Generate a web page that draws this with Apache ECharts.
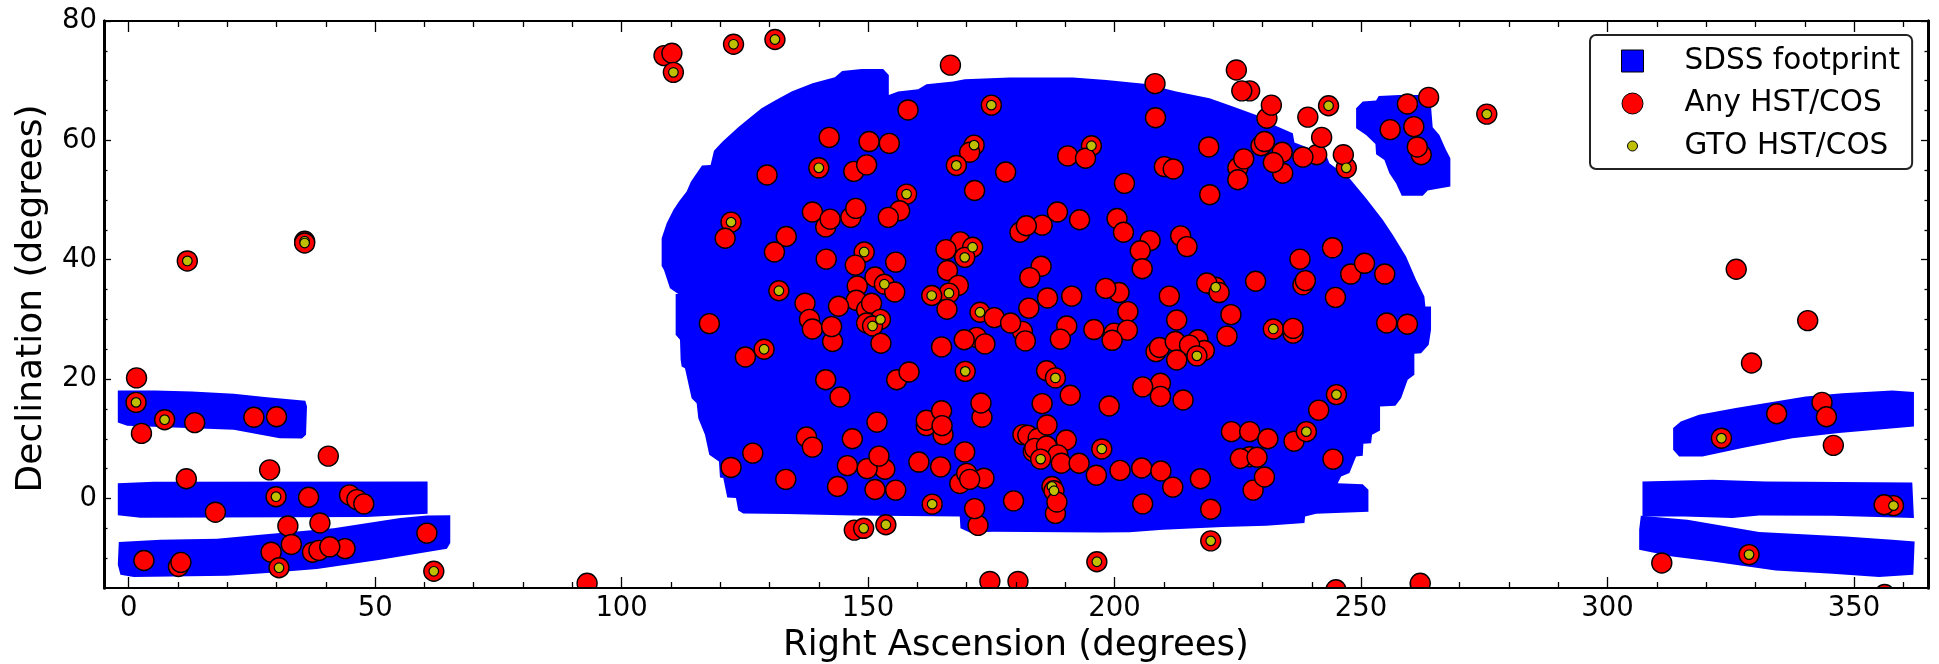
<!DOCTYPE html>
<html>
<head>
<meta charset="utf-8">
<style>html,body{margin:0;padding:0;background:#fff}#chart{width:1939px;height:664px}</style>
<script src="https://cdn.jsdelivr.net/npm/echarts@6/dist/echarts.min.js"></script>
</head>
<body>
<div id="chart"></div>
<script>
const xMajorTicks=[0,50,100,150,200,250,300,350];
const xMinorTicks=[10,20,30,40,60,70,80,90,110,120,130,140,160,170,180,190,210,220,230,240,260,270,280,290,310,320,330,340,360];
const yMajorTicks=[0,20,40,60,80];
const yMinorTicks=[-10,-5,5,10,15,25,30,35,45,50,55,65,70,75];

const footprintMain=[[111.84,26.58],[110.96,27.42],[110.96,34.28],[111.50,34.28],[109.81,35.23],[108.59,38.30],[108.12,38.97],[108.12,43.61],[109.14,46.12],[110.49,48.35],[111.70,49.86],[113.19,51.43],[114.07,53.10],[116.30,55.78],[118.05,55.89],[118.73,58.24],[120.49,59.80],[123.66,62.20],[125.69,63.60],[128.39,65.38],[130.76,66.50],[134.47,68.18],[138.73,69.57],[143.26,70.58],[144.74,71.64],[148.66,71.97],[153.05,71.97],[154.20,70.97],[154.20,67.62],[156.09,68.18],[160.15,68.57],[161.84,69.40],[167.24,69.85],[169.61,70.24],[178.73,70.52],[191.57,70.52],[198.32,70.13],[206.42,69.46],[212.50,68.18],[219.26,67.06],[223.99,65.66],[228.72,64.27],[232.77,62.42],[236.15,61.20],[236.49,59.63],[242.90,57.57],[243.58,56.17],[247.64,53.66],[251.01,50.31],[254.39,46.68],[256.42,44.17],[259.12,40.54],[261.15,36.63],[262.84,33.84],[263.04,32.16],[264.19,32.16],[264.19,28.25],[263.72,25.74],[262.16,24.35],[260.81,24.23],[260.81,20.72],[259.46,19.88],[258.11,16.81],[256.96,15.52],[253.85,15.41],[253.85,11.39],[252.23,10.67],[252.03,9.27],[250.47,9.16],[250.34,7.15],[248.99,7.04],[247.64,4.25],[245.95,3.69],[245.27,2.57],[250.34,2.40],[251.49,1.45],[251.49,-2.23],[240.88,-2.57],[238.65,-3.01],[238.51,-4.13],[230.74,-4.58],[221.96,-4.80],[209.80,-5.25],[203.04,-5.64],[196.96,-5.69],[175.35,-5.58],[170.62,-5.69],[168.73,-4.97],[168.59,-3.01],[146.97,-2.84],[133.46,-2.62],[124.68,-2.51],[123.66,-2.01],[123.19,0.06],[121.43,0.17],[120.62,3.41],[119.95,3.52],[119.74,6.20],[117.78,7.32],[116.91,10.67],[115.55,13.46],[115.22,15.97],[114.20,16.81],[112.85,21.83],[112.18,22.11],[111.97,23.23]];
const footprintIsland=[[248.99,65.38],[250.34,66.50],[253.04,66.67],[253.58,67.45],[257.77,67.62],[263.85,67.62],[264.19,65.66],[264.53,62.20],[265.88,60.92],[267.23,58.40],[268.11,57.0],[268.11,52.26],[263.51,51.59],[262.50,50.70],[258.25,50.70],[257.09,52.82],[255.74,54.50],[254.73,56.73],[253.04,57.68],[252.91,59.41],[251.01,60.92],[248.99,62.03]];
const footprintLeftTop=[[-2.2,18.09],[5.44,18.09],[12.87,17.93],[21.32,17.53],[28.07,16.98],[35.84,16.36],[36.18,15.41],[35.98,10.67],[35.17,10.05],[30.64,10.11],[21.32,11.50],[9.16,11.90],[-0.30,12.17],[-2.2,12.73]];
const footprintLeftMid=[[-2.20,2.57],[5.10,2.79],[60.64,2.85],[60.64,-2.57],[48.34,-3.12],[2.40,-3.24],[-2.20,-2.79]];
const footprintLeftLow=[[-2.0,-7.31],[6.45,-6.92],[17.94,-6.75],[26.72,-6.08],[41.59,-4.97],[55.10,-3.29],[60.5,-2.85],[65.24,-2.79],[65.24,-7.48],[64.56,-8.43],[51.05,-10.27],[38.21,-11.83],[28.07,-12.50],[19.97,-12.95],[1.05,-13.17],[-1.66,-12.78],[-2.2,-11.11]];
const footprintRightTop=[[313.30,11.79],[314.85,12.90],[318.57,14.02],[326.0,15.14],[340.19,17.09],[347.62,17.65],[357.76,18.10],[362.15,17.82],[362.15,12.07],[346.95,10.95],[337.49,10.11],[327.35,8.44],[319.25,7.04],[314.52,7.04],[313.30,8.16]];
const footprintRightMid=[[307.08,2.86],[321.27,3.13],[332.08,2.86],[361.81,2.69],[362.15,-3.29],[345.6,-2.90],[330.73,-2.84],[325.33,-3.29],[315.53,-3.01],[307.08,-3.0],[307.08,-2.17]];
const footprintRightLow=[[306.75,-2.9],[316.2,-3.57],[330.73,-5.63],[348.3,-6.36],[357.76,-6.92],[362.29,-7.19],[362.02,-12.78],[355.06,-13.17],[345.6,-12.61],[334.11,-12.05],[321.27,-10.55],[313.16,-9.71],[306.41,-8.59],[306.41,-5.24]];

const anyHstCos=[
[108.6,74.2],[110.2,74.6],[110.5,71.4],[122.7,76.1],[131.1,76.9],[166.7,72.6],[158.1,65.1],[175.0,65.9],[142.1,60.5],[150.2,59.8],[154.3,59.5],[171.5,59.2],[170.6,58.0],[167.9,55.8],[195.3,59.1],[190.5,57.4],[194.1,57.0],[140.0,55.4],[147.1,54.8],[149.7,55.9],[129.5,54.2],[177.9,54.7],[171.6,51.6],[157.8,51.0],[156.4,48.2],[154.1,47.1],[138.7,48.0],[146.5,47.1],[147.5,48.6],[141.4,45.5],[142.3,46.8],[122.2,46.3],[121.0,43.6],[133.4,43.9],[131.0,41.3],[141.5,40.1],[149.2,41.3],[147.4,39.1],[155.6,39.6],[168.7,43.0],[165.8,41.7],[171.2,42.1],[169.6,40.4],[166.1,38.2],[168.3,35.7],[166.4,34.4],[162.9,34.0],[166.0,31.7],[188.4,48.0],[192.9,46.7],[185.3,45.8],[180.8,44.6],[182.1,45.7],[185.1,38.9],[182.8,37.0],[151.4,37.1],[153.3,35.9],[155.4,34.6],[147.8,35.6],[147.6,33.2],[149.7,31.6],[150.7,32.7],[152.5,30.0],[149.7,29.4],[150.9,28.9],[144.0,32.2],[137.2,32.7],[138.1,30.0],[138.7,28.4],[142.8,26.3],[142.6,28.8],[152.6,26.0],[131.9,34.8],[117.8,29.3],[172.7,31.2],[175.6,30.3],[181.3,28.0],[178.9,29.4],[181.9,26.4],[172.0,27.0],[169.5,26.6],[173.7,25.9],[164.9,25.4],[182.6,31.9],[186.4,33.6],[191.3,33.9],[190.3,28.9],[189.0,26.7],[195.8,28.3],[128.9,25.0],[125.1,23.7],
[224.7,71.8],[227.4,68.3],[225.8,68.3],[230.9,63.7],[231.8,65.9],[239.2,63.9],[243.4,65.8],[208.2,69.5],[208.3,63.8],[219.1,58.9],[241.0,57.6],[242.0,60.5],[238.2,57.2],[229.7,59.1],[230.4,59.8],[234.0,58.0],[234.1,54.5],[232.2,56.3],[225.0,55.4],[226.2,56.9],[225.0,53.4],[247.0,55.4],[246.4,57.6],[210.1,55.6],[211.9,55.2],[202.0,52.8],[219.3,50.9],[200.5,46.9],[201.8,44.6],[207.2,43.2],[205.2,41.5],[205.6,38.5],[213.4,44.0],[214.7,42.2],[237.6,40.1],[244.2,42.0],[247.9,37.6],[250.7,39.4],[254.8,37.6],[238.2,35.8],[238.7,36.5],[244.8,33.7],[228.6,36.4],[200.9,34.5],[198.2,35.2],[220.5,35.4],[218.7,36.1],[221.2,34.5],[211.1,33.9],[202.7,31.3],[212.6,29.9],[223.6,30.8],[222.8,27.2],[255.2,29.4],[259.4,29.2],[232.2,28.4],[236.2,27.7],[236.2,28.5],[199.9,27.7],[202.6,28.2],[199.5,26.5],[208.4,24.6],[209.1,25.3],[216.9,26.6],[218.2,24.8],[212.3,26.3],[215.2,25.7],[216.7,23.9],[212.6,23.2],
[259.4,66.1],[263.7,67.2],[255.9,61.8],[260.7,62.3],[262.2,57.6],[261.4,58.9],[275.5,64.4],
[141.4,19.9],[144.3,17.0],[155.8,19.9],[158.3,21.2],[169.7,21.3],[186.2,21.4],[188.0,20.2],[191.0,17.3],[185.3,15.9],[198.9,15.5],[173.1,13.6],[172.9,16.0],[151.8,12.8],[161.8,12.2],[161.8,13.1],[164.9,14.7],[165.2,10.7],[165.0,12.2],[137.5,10.3],[138.7,8.6],[146.8,10.0],[181.4,10.7],[182.4,10.6],[184.5,10.1],[183.5,7.9],[183.8,8.4],[186.2,8.8],[186.3,12.3],[190.2,9.8],[188.5,7.3],[185.0,6.6],[189.2,5.9],[197.4,8.3],[192.8,5.9],[196.3,3.9],[201.1,4.7],[169.6,7.8],[160.3,6.1],[164.7,5.3],[153.4,4.9],[149.8,5.0],[152.2,7.1],[145.8,5.5],[126.6,7.6],[122.2,5.2],[133.3,3.2],[143.8,2.0],[151.4,1.5],[155.6,1.4],[168.6,2.5],[170.0,4.2],[173.5,3.4],[170.6,3.2],[187.3,2.0],[187.7,1.3],[188.0,-2.5],[188.3,-0.6],[179.5,-0.4],[172.3,-4.5],[171.6,-1.7],[163.0,-0.95],[147.2,-5.3],[149.1,-5.0],[153.6,-4.4],[196.4,-10.6],[174.7,-13.9],[180.4,-13.9],[93.0,-14.2],
[209.3,19.3],[205.7,18.7],[209.3,17.1],[213.9,16.5],[205.5,5.1],[209.4,4.6],[211.8,1.9],[217.4,3.3],[223.7,11.2],[227.4,11.2],[231.1,10.0],[227.4,7.0],[225.5,6.7],[228.9,6.9],[228.1,1.4],[230.4,3.6],[236.4,9.6],[238.9,11.2],[241.4,14.8],[245.0,17.4],[244.3,6.6],[205.7,-0.9],[219.5,-1.8],[219.5,-7.1],[244.9,-15.3],[262.0,-14.2],
[1.6,20.2],[1.5,16.1],[7.3,13.2],[2.6,10.9],[13.4,12.7],[25.4,13.6],[30.0,13.7],[40.5,7.1],[28.6,4.8],[11.7,3.3],[29.9,0.3],[36.5,0.2],[44.8,0.6],[46.3,-0.2],[47.7,-0.9],[17.6,-2.3],[32.3,-4.6],[38.8,-4.1],[33.0,-7.7],[28.9,-9.0],[37.3,-9.0],[38.6,-8.7],[43.9,-8.4],[40.8,-8.1],[60.5,-5.8],[3.1,-10.4],[10.1,-11.4],[10.6,-10.7],[30.5,-11.6],[61.9,-12.2],[11.9,39.8],[35.7,43.1],[35.7,42.8],
[326.1,38.4],[340.6,29.8],[329.2,22.7],[343.5,16.1],[344.4,13.7],[334.3,14.2],[345.8,8.9],[323.1,10.1],[358.0,-1.2],[356.1,-1.05],[328.7,-9.4],[311.0,-10.8],[356.2,-16.1]
];
const gtoHstCos=[
[110.5,71.4],[122.7,76.1],[131.1,76.9],[175.0,65.9],[171.5,59.2],[167.9,55.8],[195.3,59.1],[140.0,55.4],[157.8,51.0],[122.2,46.3],[149.2,41.3],[171.2,42.1],[169.6,40.4],[166.4,34.4],[162.9,34.0],[153.3,35.9],[152.5,30.0],[150.9,28.9],[131.9,34.8],[172.7,31.2],[128.9,25.0],
[243.4,65.8],[247.0,55.4],[220.5,35.4],[232.2,28.4],[216.7,23.9],[275.5,64.4],
[169.7,21.3],[188.0,20.2],[185.0,6.6],[197.4,8.3],[187.3,2.0],[187.7,1.3],[163.0,-0.95],[149.1,-5.0],[153.6,-4.4],[196.4,-10.6],
[238.9,11.2],[245.0,17.4],[219.5,-7.1],
[1.5,16.1],[7.3,13.2],[29.9,0.3],[30.5,-11.6],[61.9,-12.2],[11.9,39.8],[35.7,43.1],[35.7,42.8],
[323.1,10.1],[358.0,-1.2],[328.7,-9.4]
];
const footprintPolygons=[footprintMain,footprintIsland,footprintLeftTop,footprintLeftMid,footprintLeftLow,footprintRightTop,footprintRightMid,footprintRightLow];

const FONT='"DejaVu Sans"';
const X_RANGE={min:-5,max:365}, Y_RANGE={min:-15,max:80};
const box='M0 0L0 0M83 22L83 22';
const squareIcon='path://'+box+'M25 0H47V22H25Z';
const bigIcon='path://'+box+'M25.5 11a10.5 10.5 0 1 0 21 0a10.5 10.5 0 1 0 -21 0Z';
const smallIcon='path://'+box+'M31 11a5 5 0 1 0 10 0a5 5 0 1 0 -10 0Z';

function xAxis(position,ticks,len,extra){
  return Object.assign({type:'value',position,z:5,...X_RANGE,splitLine:{show:false},
    axisLine:{show:true,onZero:false,lineStyle:{color:'#000',width:2}},
    axisTick:{show:true,inside:true,length:len,customValues:ticks,lineStyle:{color:'#000',width:1.3}},
    axisLabel:{show:false}},extra||{});
}
function yAxis(position,ticks,len,extra){
  return Object.assign({type:'value',position,z:5,...Y_RANGE,splitLine:{show:false},
    axisLine:{show:true,onZero:false,lineStyle:{color:'#000',width:3}},
    axisTick:{show:true,inside:true,length:len,customValues:ticks,lineStyle:{color:'#000',width:1.3}},
    axisLabel:{show:false}},extra||{});
}
function circles(r,fill,lw){
  return (params,api)=>{
    const c=api.coord([api.value(0),api.value(1)]);
    return {type:'circle',shape:{cx:c[0],cy:c[1],r},style:{fill,stroke:'#000',lineWidth:lw}};
  };
}
const chart=echarts.init(document.getElementById('chart'),null,{renderer:'canvas'});
chart.setOption({
  animation:false,
  backgroundColor:'#fff',
  textStyle:{fontFamily:FONT},
  grid:{left:104,right:11,top:21,bottom:76,outerBoundsMode:'none'},
  xAxis:[
    xAxis('bottom',xMajorTicks,11,{
      name:'Right Ascension (degrees)',nameLocation:'middle',nameGap:38,
      nameTextStyle:{fontFamily:FONT,fontSize:35.5,color:'#000'},
      axisLabel:{show:true,customValues:xMajorTicks,fontFamily:FONT,fontSize:27.5,color:'#000',margin:7,formatter:v=>String(v)}}),
    xAxis('top',xMajorTicks,11),
    xAxis('bottom',xMinorTicks,6),
    xAxis('top',xMinorTicks,6)
  ],
  yAxis:[
    yAxis('left',yMajorTicks,7,{
      name:'Declination (degrees)',nameLocation:'middle',nameGap:54,
      nameTextStyle:{fontFamily:FONT,fontSize:36,color:'#000',padding:[0,0,0,12]},
      axisLabel:{show:true,customValues:yMajorTicks,fontFamily:FONT,fontSize:27.5,color:'#000',margin:7,formatter:v=>String(v)}}),
    yAxis('right',yMajorTicks,7),
    yAxis('left',yMinorTicks,3.5),
    yAxis('right',yMinorTicks,3.5)
  ],
  legend:{
    orient:'vertical',left:1590,top:35,align:'left',selectedMode:false,z:8,
    padding:[11,12,8,6],itemWidth:83,itemHeight:22,itemGap:12.5,
    backgroundColor:'#fff',borderColor:'#222',borderWidth:2,borderRadius:6,
    textStyle:{fontFamily:FONT,fontSize:29.5,color:'#000'},
    data:[
      {name:'SDSS footprint',icon:squareIcon,itemStyle:{color:'#0000ff',borderColor:'#000',borderWidth:1}},
      {name:'Any HST/COS',icon:bigIcon,itemStyle:{color:'#ff0000',borderColor:'#000',borderWidth:1}},
      {name:'GTO HST/COS',icon:smallIcon,itemStyle:{color:'#bfbf00',borderColor:'#000',borderWidth:1}}
    ]
  },
  series:[
    {name:'SDSS footprint',type:'custom',coordinateSystem:'cartesian2d',clip:true,silent:true,z:2,
     data:footprintPolygons.map((p,i)=>[i]),encode:{x:[],y:[]},
     renderItem:(params,api)=>({type:'polygon',
        shape:{points:footprintPolygons[api.value(0)].map(p=>api.coord(p))},
        style:{fill:'#0000ff'}})},
    {name:'Any HST/COS',type:'custom',coordinateSystem:'cartesian2d',clip:true,silent:true,z:3,
     data:anyHstCos,encode:{x:0,y:1},renderItem:circles(10,'#ff0000',1.4)},
    {name:'GTO HST/COS',type:'custom',coordinateSystem:'cartesian2d',clip:true,silent:true,z:4,
     data:gtoHstCos,encode:{x:0,y:1},renderItem:circles(4.8,'#bfbf00',1.2)}
  ]
});
</script>
</body>
</html>
